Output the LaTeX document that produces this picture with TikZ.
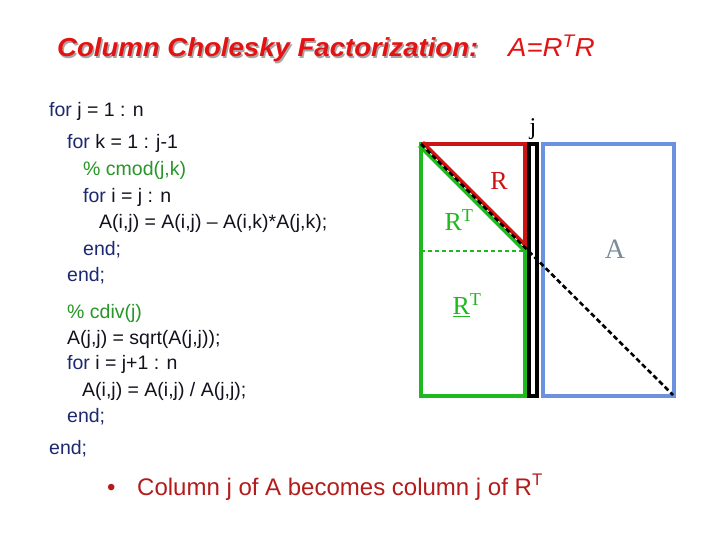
\documentclass[tikz,border=0pt]{standalone}
\usepackage{fontspec}
\setmainfont{Liberation Sans}
\newfontfamily\serifR{Liberation Serif}
\definecolor{titlered}{RGB}{228,18,18}
\definecolor{navy}{RGB}{28,40,112}
\definecolor{codeblack}{RGB}{18,18,30}
\definecolor{cmtgreen}{RGB}{40,150,40}
\definecolor{bulletred}{RGB}{180,28,28}
\definecolor{rred}{RGB}{205,20,20}
\definecolor{rgreen}{RGB}{30,185,30}
\definecolor{ablue}{RGB}{108,145,222}
\definecolor{agray}{RGB}{120,140,155}
\newcommand{\kw}[1]{\textcolor{navy}{#1}}
\begin{document}
\begin{tikzpicture}[x=1pt,y=-1pt,
  code/.style={anchor=base west, inner sep=0pt, font=\fontsize{19.5}{22}\selectfont, text=codeblack},
  cmt/.style={code, text=cmtgreen},
  lbl/.style={inner sep=0pt, font=\serifR\fontsize{26}{28}\selectfont},
  titletext/.style={anchor=base west, inner sep=0pt}]
\useasboundingbox (0,0) rectangle (720,540);
\fill[white] (0,0) rectangle (720,540);

% title
\node[titletext, text=black!35] (titleshadow) at (58.5,58.5) {\scalebox{1.06}[1]{\fontsize{26}{30}\selectfont\bfseries\itshape Column Cholesky Factorization:}};
\node[titletext, text=titlered] (title) at (57,57) {\scalebox{1.06}[1]{\fontsize{26}{30}\selectfont\bfseries\itshape Column Cholesky Factorization:}};
\node[titletext, text=titlered] (eq) at (508,57) {\scalebox{1.06}[1]{\fontsize{26}{30}\selectfont\itshape A=R\textsuperscript{T}R}};

% code
\node[code] (l1) at (49,117) {\kw{for} j = 1 : n};
\node[code] (l2) at (67,149) {\kw{for} k = 1 : j-1};
\node[cmt] (l3) at (83,176) {\% cmod(j,k)};
\node[code] (l4) at (83,203) {\kw{for} i = j : n};
\node[code] (l5) at (99,229) {A(i,j) = A(i,j) -- A(i,k)*A(j,k);};
\node[code] (l6) at (83,255) {\kw{end;}};
\node[code] (l7) at (67,281) {\kw{end;}};
\node[cmt] (l8) at (67,318) {\% cdiv(j)};
\node[code] (l9) at (67,344) {A(j,j) = sqrt(A(j,j));};
\node[code] (l10) at (67,369) {\kw{for} i = j+1 : n};
\node[code] (l11) at (82,396) {A(i,j) = A(i,j) / A(j,j);};
\node[code] (l12) at (67,422) {\kw{end;}};
\node[code] (l13) at (49,454) {\kw{end;}};

% diagram
\coordinate (tl) at (421,144);
\coordinate (tr) at (525,144);
\coordinate (mid) at (525,248);
\coordinate (br) at (673,395);
\draw[rgreen, line width=3.8pt] (421,144) rectangle (525,396);
\draw[rgreen, line width=2pt, dash pattern=on 4pt off 3pt] (421,251) -- (525,251);
\draw[rgreen, line width=3.8pt] ([shift={(-1.6,1.6)}]tl) -- ([shift={(-1.6,1.6)}]mid);
\draw[rred, line width=3.8pt, line join=miter] (tl) -- (tr) -- (525,247);
\draw[rred, line width=3.8pt] ([shift={(1.6,-1.6)}]tl) -- ([shift={(1.6,-1.6)}]mid);
\draw[black, line width=4.2pt] (529,144) rectangle (537,396);
\draw[ablue, line width=3.8pt] (543,144) rectangle (674,396);
\draw[black, line width=2.6pt, dash pattern=on 5pt off 3pt] (tl) -- (br);

\node[lbl, text=black, font=\serifR\fontsize{24}{26}\selectfont] (jlab) at (533,129) {j};
\node[lbl, text=rred] (rlab) at (499,181) {R};
\node[lbl, text=rgreen] (rtlab) at (459,220) {R\textsuperscript{T}};
\node[lbl, text=agray, font=\serifR\fontsize{28}{30}\selectfont] (alab) at (615,249) {A};
\node[lbl, text=rgreen] (rtlab2) at (467,305) {\underline{R}\textsuperscript{T}};

% bullet
\node[anchor=base west, inner sep=0pt, text=bulletred, font=\fontsize{24}{28}\selectfont] (bul) at (107,495) {\textbullet};
\node[anchor=base west, inner sep=0pt, text=bulletred, font=\fontsize{24}{28}\selectfont] (btext) at (137,495) {Column j of A becomes column j of R\textsuperscript{T}};
\end{tikzpicture}
\end{document}
